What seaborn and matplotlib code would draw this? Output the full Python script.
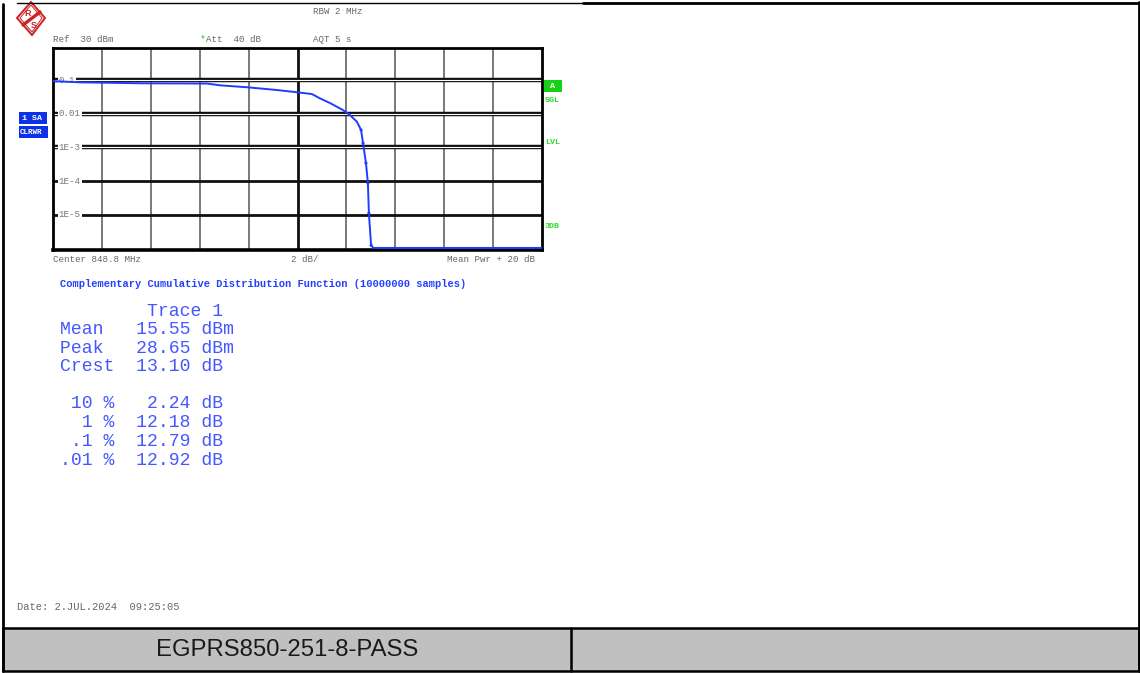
import numpy as np
import pandas as pd
import matplotlib
matplotlib.use("Agg")
import matplotlib.pyplot as plt
import matplotlib.patches as mpatches
import seaborn as sns

# CCDF trace (dB above mean power, probability)
ccdf_db = [0.0, 1.1, 3.68, 6.3, 6.83, 7.98, 9.16, 10.02, 10.59, 10.92, 11.33,
           11.86, 12.15, 12.43, 12.60, 12.68, 12.80, 12.88, 12.92, 13.01, 13.1, 20.0]
ccdf_prob = [0.093, 0.0855, 0.080, 0.0787, 0.0697, 0.0607, 0.0505, 0.0431, 0.0384,
             0.0286, 0.0208, 0.0129, 0.0091, 0.0058, 0.0033, 1.35e-3, 3.45e-4,
             8.7e-5, 1.12e-5, 1.26e-6, 1.05e-6, 1.05e-6]

ytick_vals = [0.1, 0.01, 1e-3, 1e-4, 1e-5]
ytick_labels = ["0.1", "0.01", "1E-3", "1E-4", "1E-5"]

stat_names = ["Mean", "Peak", "Crest"]
stat_values = [15.55, 28.65, 13.10]
stat_units = ["dBm", "dBm", "dB"]
pct_labels = ["10", "1", ".1", ".01"]
pct_values = [2.24, 12.18, 12.79, 12.92]

W, H = 1140, 673
MONO = "Liberation Mono"
GREY = "#666666"
TRACE = "#1f3cff"
STAT = "#4557ff"
GREEN = "#2fd82f"
RED = "#cc2222"

sns.set_theme(style="white")
plt.rcParams["font.family"] = ["Liberation Sans", "DejaVu Sans"]

fig = plt.figure(figsize=(W / 100, H / 100), dpi=100)

# background layer in pixel coordinates
bg = fig.add_axes([0, 0, 1, 1], zorder=0)
bg.set_xlim(0, W)
bg.set_ylim(H, 0)
bg.axis("off")

# frame and footer
bg.plot([17, 583], [2.5, 2.5], color="black", lw=1)
bg.plot([583, 1139], [2.5, 2.5], color="black", lw=2)
bg.plot([2.5, 2.5], [4, 671], color="black", lw=2)
bg.plot([1138.5, 1138.5], [2, 671], color="black", lw=2)
bg.add_patch(mpatches.Rectangle((2.5, 628), 1136, 42.5, facecolor="#c0c0c0",
                                edgecolor="black", lw=1.8))
bg.plot([571, 571], [628, 671], color="black", lw=1.8)
bg.text(287, 650, "EGPRS850-251-8-PASS", ha="center", va="center",
        fontsize=17.2, color="#1a1a1a")

# R&S logo
bg.add_patch(mpatches.Polygon([(31, 2), (45, 18), (32, 35), (17, 18)], closed=True,
                              facecolor="white", edgecolor=RED, lw=1.4))
bg.add_patch(mpatches.Polygon([(31, 5), (42, 18), (32, 32), (20, 18)], closed=True,
                              facecolor="none", edgecolor=RED, lw=0.7))
bg.plot([23, 40], [25, 12], color=RED, lw=2.4)
bg.text(28, 13, "R", color=RED, fontsize=6.5, fontweight="bold", ha="center", va="center")
bg.text(34, 25, "S", color=RED, fontsize=6.5, fontweight="bold", ha="center", va="center")

# header texts
hdr = dict(family=MONO, fontsize=6.6, color=GREY, va="center", ha="left")
bg.text(313, 12, "RBW 2 MHz", **hdr)
bg.text(53, 40, "Ref  30 dBm", **hdr)
bg.text(200, 39, "*", family=MONO, fontsize=7, color="#22cc22", va="center", ha="left")
bg.text(206, 40, "Att  40 dB", **hdr)
bg.text(313, 40, "AQT 5 s", **hdr)
bg.text(53, 260, "Center 848.8 MHz", **hdr)
bg.text(291, 260, "2 dB/", **hdr)
bg.text(535, 260, "Mean Pwr + 20 dB", **{**hdr, "ha": "right"})
bg.text(17, 607, "Date: 2.JUL.2024  09:25:05", family=MONO, fontsize=7.5,
        color=GREY, va="center", ha="left")

# side labels
bg.add_patch(mpatches.Rectangle((19, 112), 28, 12, facecolor="#0b32e6", edgecolor="none"))
bg.text(22, 118, "1 SA", family=MONO, fontsize=6, color="white", fontweight="bold", va="center")
bg.add_patch(mpatches.Rectangle((19, 126), 29, 12, facecolor="#0b32e6", edgecolor="none"))
bg.text(20, 132, "CLRWR", family=MONO, fontsize=5.4, color="white", fontweight="bold", va="center")
bg.add_patch(mpatches.Rectangle((544, 80), 18, 12, facecolor="#18d018", edgecolor="none"))
bg.text(553, 86, "A", family=MONO, fontsize=6, color="white", fontweight="bold",
        ha="center", va="center")
for lbl, yy in [("SGL", 100), ("LVL", 143), ("3DB", 227)]:
    bg.text(545, yy, lbl, family=MONO, fontsize=6, color=GREEN, fontweight="bold", va="center")

# title and statistics
bg.text(60, 284, "Complementary Cumulative Distribution Function (10000000 samples)",
        family=MONO, fontsize=7.45, color="#2340ff", fontweight="bold", va="center")
st = dict(family=MONO, fontsize=13.1, color=STAT, va="center", ha="left")
bg.text(60, 311, "        Trace 1", **st)
for i, (n, v, u) in enumerate(zip(stat_names, stat_values, stat_units)):
    bg.text(60, 329.5 + i * 18.6, f"{n:<6} {v:5.2f} {u}", **st)
for i, (p, v) in enumerate(zip(pct_labels, pct_values)):
    bg.text(60, 403.5 + i * 18.9, f"{p:>3} %  {v:5.2f} dB", **st)

# main CCDF diagram
ax = fig.add_axes([53 / W, 1 - 250 / H, 489 / W, 202 / H], zorder=2)
ax.set_facecolor("white")
df = pd.DataFrame({"db": ccdf_db, "prob": ccdf_prob})
ax.set_yscale("log")
ax.set_xlim(0, 20)
ax.set_ylim(10 ** -6.04, 10 ** -0.05)

for xv in np.arange(2, 20, 2):
    if xv == 10:
        ax.axvline(xv, color="#111111", lw=2, zorder=1)
    else:
        ax.axvline(xv, color="#555555", lw=1.1, zorder=1)
for i, yv in enumerate(ytick_vals):
    if i < 3:
        ax.axhline(yv, color="#111111", lw=3.2, zorder=1)
        ax.axhline(yv, color="white", lw=0.8, zorder=1)
    else:
        ax.axhline(yv, color="#111111", lw=2, zorder=1)
    ax.text(0.012, yv, ytick_labels[i], transform=ax.get_yaxis_transform(),
            family=MONO, fontsize=6.6, color="#777777", va="center", ha="left",
            zorder=2, bbox=dict(facecolor="white", edgecolor="none", pad=0.6))

sns.lineplot(data=df, x="db", y="prob", ax=ax, color=TRACE, lw=1.4, zorder=3)
steep = df[(df["db"] > 12.5) & (df["db"] < 13.05)]
sns.scatterplot(data=steep, x="db", y="prob", ax=ax, color=TRACE, s=5,
                edgecolor="none", zorder=4)

ax.set_xticks([])
ax.set_yticks([])
ax.minorticks_off()
ax.set_xlabel("")
ax.set_ylabel("")
for s in ax.spines.values():
    s.set_color("black")
    s.set_linewidth(2)
ax.spines["bottom"].set_linewidth(2.6)

fig.savefig("out.png", dpi=100)
